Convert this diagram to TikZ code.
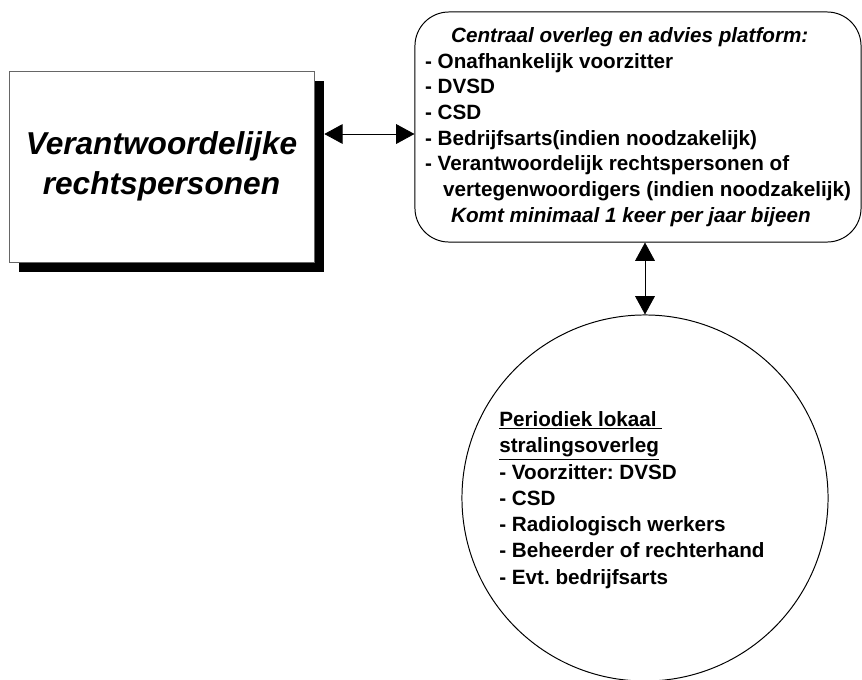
\documentclass[tikz,border=0pt]{standalone}
\usepackage{fontspec}
\setmainfont{Liberation Sans}
\usetikzlibrary{arrows.meta}
\usetikzlibrary{shadows}
\frenchspacing

\tikzset{
  rechtsbox/.style={draw=black!60, fill=white, minimum width=7.625cm, minimum height=4.775cm,
    inner sep=0pt, align=center, font=\fontsize{22.5}{28.5}\selectfont\bfseries\itshape,
    drop shadow={shadow xshift=0.25cm, shadow yshift=-0.25cm, fill=black, opacity=1}},
  platformbox/.style={draw=black, line width=0.7pt, rounded corners=0.85cm, minimum width=11.15cm,
    minimum height=5.75cm, inner sep=0pt, align=left, font=\fontsize{14.7}{18.3}\selectfont\bfseries},
  overlegcirkel/.style={draw=black, line width=0.7pt, circle, minimum size=9.15cm, inner sep=0pt},
  overlegtekst/.style={anchor=west, inner sep=0pt, align=left, font=\fontsize{14.7}{18.7}\selectfont\bfseries},
  dubbelpijl/.style={black, line width=0.6pt, {Triangle[length=13pt,width=14pt]}-{Triangle[length=13pt,width=14pt]}}
}

\begin{document}
\begin{tikzpicture}[x=0.025cm, y=-0.025cm]
\useasboundingbox (0,0) rectangle (862,679);

\node[rechtsbox] (rechts) at (161.5,166.5) {Verantwoordelijke\\rechtspersonen};

\node[platformbox] (platform) at (638,127) {\hspace*{18.5pt}\textit{Centraal overleg en advies platform:}\\
- Onafhankelijk voorzitter\\
- DVSD\\
- CSD\\
- Bedrijfsarts(indien noodzakelijk)\\
- Verantwoordelijk rechtspersonen of\\
\hspace*{12.8pt}vertegenwoordigers (indien noodzakelijk)\\
\hspace*{18.5pt}\textit{Komt minimaal 1 keer per jaar bijeen}};

\node[overlegcirkel] (overleg) at (645,498) {};
\node[overlegtekst] (overlegtekst) at (499,500) {\underline{Periodiek lokaal\ }\\
\underline{stralingsoverleg}\\
- Voorzitter: DVSD\\
- CSD\\
- Radiologisch werkers\\
- Beheerder of rechterhand\\
- Evt. bedrijfsarts};

% verbindingen
\coordinate (links) at ([shift={(10,-32.5)}]rechts.east);
\draw[dubbelpijl] (links) -- (links -| platform.west);
\draw[dubbelpijl] (overleg.north |- platform.south) -- (overleg.north);

\end{tikzpicture}
\end{document}
